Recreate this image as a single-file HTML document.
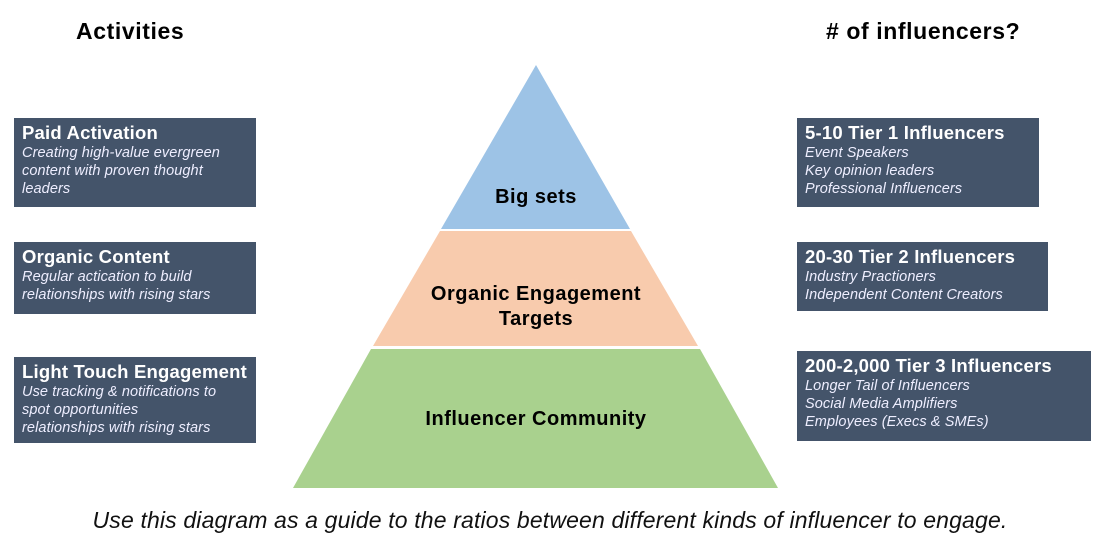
<!DOCTYPE html>
<html><head><meta charset="utf-8"><style>
body{margin:0;width:1100px;height:546px;background:#fff;position:relative;overflow:hidden;font-family:"Liberation Sans",sans-serif}
.box{position:absolute;background:#44546a;color:#fff;padding:4px 8px;box-sizing:border-box}
.box b{display:block;font-size:18.5px;line-height:22px;letter-spacing:0.2px;white-space:nowrap}
.box i{display:block;font-size:14.5px;line-height:18px;color:#eef;letter-spacing:0.1px;white-space:nowrap}
.h{position:absolute;font-weight:bold;font-size:23px;color:#000;letter-spacing:0.6px}
svg{position:absolute;left:0;top:0}
</style></head><body>
<div class="h" style="left:76px;top:18px">Activities</div>
<div class="h" style="left:826px;top:18px"># of influencers?</div>
<svg width="1100" height="546">
<polygon points="536,65 630,229 441,229" fill="#9dc3e6"/>
<polygon points="440,231 631,231 698,346 373,346" fill="#f8cbad"/>
<polygon points="371,349 700,349 778,488 293,488" fill="#a9d18e"/>
<g font-family="Liberation Sans,sans-serif" font-weight="bold" font-size="20" letter-spacing="0.5" text-anchor="middle" fill="#000">
<text x="536" y="203">Big sets</text>
<text x="536" y="300">Organic Engagement</text>
<text x="536" y="325">Targets</text>
<text x="536" y="425">Influencer Community</text>
</g>
</svg>
<div class="box" style="left:14px;top:118px;width:242px;height:89px"><b>Paid Activation</b><i>Creating high-value evergreen<br>content with proven thought<br>leaders</i></div>
<div class="box" style="left:14px;top:242px;width:242px;height:72px"><b>Organic Content</b><i>Regular actication to build<br>relationships with rising stars</i></div>
<div class="box" style="left:14px;top:357px;width:242px;height:86px"><b>Light Touch Engagement</b><i>Use tracking &amp; notifications to<br>spot opportunities<br>relationships with rising stars</i></div>
<div class="box" style="left:797px;top:118px;width:242px;height:89px"><b>5-10 Tier 1 Influencers</b><i>Event Speakers<br>Key opinion leaders<br>Professional Influencers</i></div>
<div class="box" style="left:797px;top:242px;width:251px;height:69px"><b>20-30 Tier 2 Influencers</b><i>Industry Practioners<br>Independent Content Creators</i></div>
<div class="box" style="left:797px;top:351px;width:294px;height:90px"><b>200-2,000 Tier 3 Influencers</b><i>Longer Tail of Influencers<br>Social Media Amplifiers<br>Employees (Execs &amp; SMEs)</i></div>
<div style="position:absolute;left:0;width:1100px;top:507px;text-align:center;font-style:italic;font-size:23px;letter-spacing:0.15px;color:#111">Use this diagram as a guide to the ratios between different kinds of influencer to engage.</div>
</body></html>
